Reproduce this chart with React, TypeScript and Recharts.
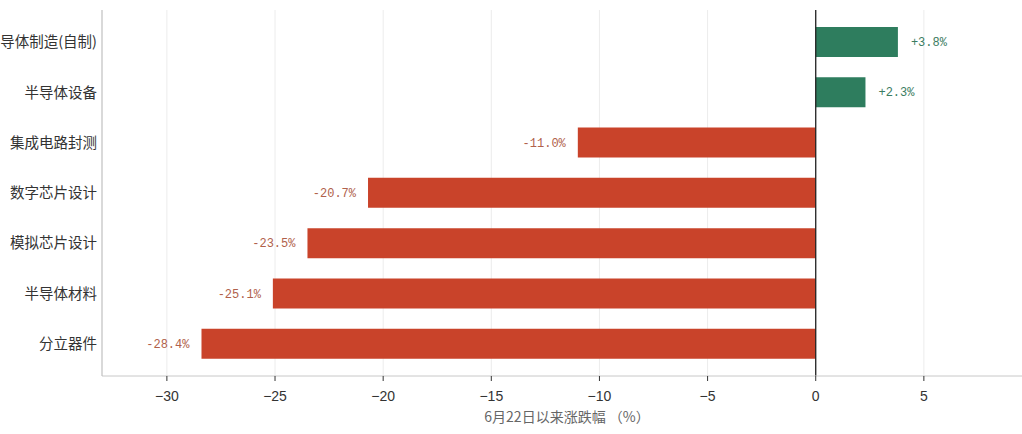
import React from 'react'
import {
  BarChart, Bar, Cell, LabelList,
  XAxis, YAxis, CartesianGrid, ReferenceLine,
} from 'recharts'

// 板块涨跌幅（6月22日以来）
const CATEGORIES = ['半导体制造(自制)', '半导体设备', '集成电路封测', '数字芯片设计', '模拟芯片设计', '半导体材料', '分立器件']
const CHANGES = [3.8, 2.3, -11.0, -20.7, -23.5, -25.1, -28.4]
const X_TICKS = [-30, -25, -20, -15, -10, -5, 0, 5]
const X_LABEL = '6月22日以来涨跌幅 （%）'

const GREEN = '#2e7d5e'
const RED = '#c9432a'
const GREEN_TEXT = '#3b7c61'
const RED_TEXT = '#b0614b'

const data = CATEGORIES.map((name, i) => ({ name, value: CHANGES[i] }))

function fmtTick(v: number): string {
  return v < 0 ? '\u2212' + Math.abs(v) : String(v)
}

function ValueLabel(props: any) {
  const { x, y, width, height, value } = props
  const v = Number(value)
  const left = Math.min(x, x + width)
  const right = Math.max(x, x + width)
  const pos = v >= 0
  return (
    <text
      x={pos ? right + 13 : left - 12}
      y={y + height / 2}
      dy="0.35em"
      textAnchor={pos ? 'start' : 'end'}
      fill={pos ? GREEN_TEXT : RED_TEXT}
      fontSize={12}
      fontFamily="'Liberation Mono', 'DejaVu Sans Mono', monospace"
    >
      {(pos ? '+' : '') + v.toFixed(1) + '%'}
    </text>
  )
}

export default function App() {
  return (
    <div style={{
      position: 'fixed', top: 0, left: 0, width: 1022, height: 434,
      overflow: 'hidden', background: '#fff',
    }}>
      <div style={{ position: 'absolute', left: -100, top: 0 }}>
        <BarChart
          width={1142}
          height={434}
          data={data}
          layout="vertical"
          margin={{ top: 10, right: 10, bottom: 0, left: 0 }}
          barSize={30}
        >
          <CartesianGrid horizontal={false} stroke="#ececec" />
          <XAxis
            type="number"
            dataKey="value"
            domain={[-33, 10]}
            ticks={X_TICKS}
            allowDataOverflow
            height={58}
            tickSize={5}
            tickMargin={10}
            tickLine={{ stroke: '#333' }}
            axisLine={{ stroke: '#c8c8c8' }}
            tick={{ fill: '#333', fontSize: 14, fontFamily: "'Liberation Sans', Arial, sans-serif" }}
            tickFormatter={fmtTick}
            label={{
              value: X_LABEL, position: 'insideBottom', offset: 12,
              fill: '#666', fontSize: 14, fontFamily: "'Noto Sans CJK SC', sans-serif",
            }}
          />
          <YAxis
            type="category"
            dataKey="name"
            width={202}
            tickSize={0}
            tickMargin={5}
            axisLine={{ stroke: '#bdbdbd' }}
            padding={{ top: 7, bottom: 7 }}
            tick={{ fill: '#333', fontSize: 14.5, fontFamily: "'Noto Sans CJK SC', sans-serif" }}
            interval={0}
          />
          <ReferenceLine x={0} stroke="#222" strokeWidth={1.3} />
          <Bar dataKey="value" isAnimationActive={false}>
            {data.map((d, i) => (
              <Cell key={i} fill={d.value >= 0 ? GREEN : RED} />
            ))}
            <LabelList dataKey="value" content={ValueLabel} />
          </Bar>
        </BarChart>
      </div>
    </div>
  )
}
